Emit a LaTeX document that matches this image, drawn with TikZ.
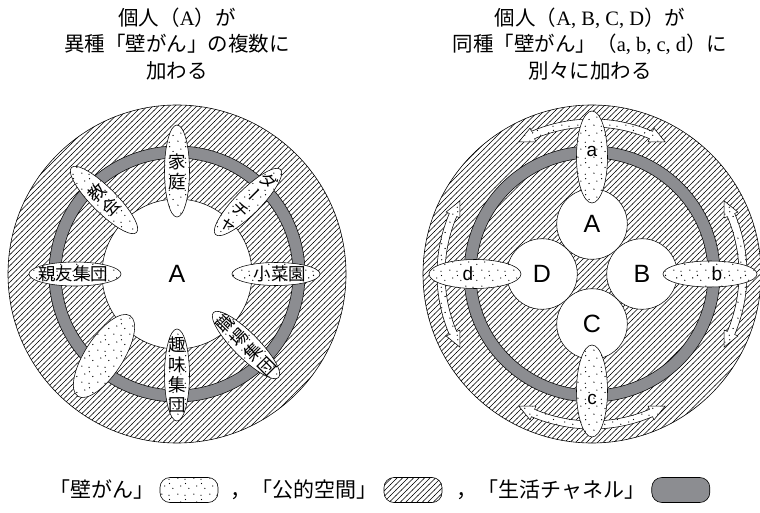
\documentclass[tikz,border=0pt]{standalone}
\usepackage{fontspec}
\setmainfont{Liberation Serif}
\newfontfamily\jp{Noto Sans CJK JP}
\newfontfamily\jpv[RawFeature=+vert]{Noto Sans CJK JP}
\newfontfamily\lsans{Liberation Sans}
\usetikzlibrary{patterns,shapes.geometric}
\newcommand\lat[1]{{\rmfamily #1}}
\definecolor{chan}{RGB}{140,141,145}
\pgfdeclarepatternformonly{hatchne}{\pgfqpoint{-1pt}{-1pt}}{\pgfqpoint{6.5pt}{6.5pt}}{\pgfqpoint{5.5pt}{5.5pt}}{%
  \pgfsetlinewidth{0.5pt}%
  \pgfpathmoveto{\pgfqpoint{-0.3pt}{-0.3pt}}%
  \pgfpathlineto{\pgfqpoint{5.8pt}{5.8pt}}%
  \pgfusepath{stroke}}
\pgfdeclarepatternformonly{wdots}{\pgfqpoint{0pt}{0pt}}{\pgfqpoint{16pt}{16pt}}{\pgfqpoint{16pt}{16pt}}{%
  \pgfpathcircle{\pgfqpoint{2pt}{3pt}}{0.7pt}%
  \pgfpathcircle{\pgfqpoint{9.5pt}{1.8pt}}{0.7pt}%
  \pgfpathcircle{\pgfqpoint{13.5pt}{9pt}}{0.7pt}%
  \pgfpathcircle{\pgfqpoint{5pt}{11.5pt}}{0.7pt}%
  \pgfpathcircle{\pgfqpoint{10pt}{14pt}}{0.7pt}%
  \pgfusepath{fill}}
\tikzset{
  wall/.style={ellipse, draw, line width=0.55pt, preaction={fill=white}, pattern=wdots, inner sep=0pt},
  arr/.style={draw, line width=0.55pt, preaction={fill=white}, pattern=wdots},
  jtxt/.style={font=\jp\fontsize{17.5}{20}\selectfont, align=center, inner sep=0pt},
  jvtxt/.style={font=\jpv\fontsize{17.5}{20}\selectfont, align=center, inner sep=0pt},
  title/.style={font=\jp\fontsize{20.5}{26.5}\selectfont, align=center, inner sep=0pt},
  leg/.style={font=\jp\fontsize{21}{24}\selectfont, inner sep=0pt},
  legbox/.style={draw, line width=0.6pt, rounded corners=10pt, minimum width=58pt, minimum height=25pt, inner sep=0pt},
  person/.style={circle, draw, line width=0.55pt, fill=white, minimum size=70.6pt, inner sep=0pt, font=\lsans\fontsize{25}{25}\selectfont},
  small/.style={font=\lsans\fontsize{19}{19}\selectfont, inner sep=0pt},
}
\newcommand\dblarc[2]{%
  \draw[arr] (#1:151) -- ({#1+6}:158.5) -- ({#1+6}:155) arc[start angle={#1+6}, end angle={#2-6}, radius=155pt]
    -- ({#2-6}:158.5) -- (#2:151) -- ({#2-6}:143.5) -- ({#2-6}:147)
    arc[start angle={#2-6}, end angle={#1+6}, radius=147pt] -- ({#1+6}:143.5) -- cycle;}
\begin{document}
\begin{tikzpicture}[x=1pt,y=1pt]
\useasboundingbox[fill=white] (0,0) rectangle (760,512);
% titles
\node[title] (tl) at (177,468) {個人（\lat{A}）が\\異種「壁がん」の複数に\\加わる};
\node[title] (tr) at (590,468) {個人（\lat{A, B, C, D}）が\\同種「壁がん」（\lat{a, b, c, d}）に\\別々に加わる};
% left diagram
\begin{scope}[shift={(177,238)}]
  \fill[pattern=hatchne] (0,0) circle[radius=169pt];
  \draw[line width=0.6pt] (0,0) circle[radius=169pt];
  \draw[line width=0.55pt, fill=chan, even odd rule] (0,0) circle[radius=128pt] (0,0) circle[radius=116pt];
  \draw[line width=0.55pt, fill=white] (0,0) circle[radius=75pt];
  \node[font=\lsans\fontsize{25}{25}\selectfont] (cA) at (0,0) {A};
  \node[wall, minimum width=25pt, minimum height=92pt] (e1) at (0,103) {};
  \node[jtxt] (t1) at (0,102) {家\\庭};
  \node[wall, minimum width=25pt, minimum height=92pt, rotate=-45] (e2) at (71,72) {};
  \node[jvtxt, rotate=-45] (t2) at (71,72) {ダ\\ー\\チ\\ャ};
  \node[wall, minimum width=88pt, minimum height=23pt] (e3) at (99,0) {};
  \node[jtxt] (t3) at (103,0) {小菜園};
  \node[wall, minimum width=25pt, minimum height=92pt, rotate=45] (e4) at (69,-71) {};
  \node[jtxt, rotate=45] (t4) at (69,-71) {職\\場\\集\\団};
  \node[wall, minimum width=25pt, minimum height=92pt] (e5) at (0,-101) {};
  \node[jtxt] (t5) at (0,-101) {趣\\味\\集\\団};
  \node[wall, minimum width=38pt, minimum height=96pt, rotate=-33] (e6) at (-73,-82) {};
  \node[wall, minimum width=92pt, minimum height=24pt] (e7) at (-102,0) {};
  \node[jtxt] (t7) at (-104,0) {親友集団};
  \node[wall, minimum width=25pt, minimum height=92pt, rotate=45] (e8) at (-73,74) {};
  \node[jtxt, rotate=45] (t8) at (-73,74) {教\\会};
\end{scope}
% right diagram
\begin{scope}[shift={(592,238)}]
  \fill[pattern=hatchne] (0,0) circle[radius=169pt];
  \draw[line width=0.6pt] (0,0) circle[radius=169pt];
  \draw[line width=0.55pt, fill=chan, even odd rule] (0,0) circle[radius=128pt] (0,0) circle[radius=116pt];
  \dblarc{61}{119}
  \dblarc{151}{209}
  \dblarc{241}{299}
  \dblarc{-29}{29}
  \node[person] (pA) at (0,50) {A};
  \node[person] (pB) at (50,0) {B};
  \node[person] (pC) at (0,-50) {C};
  \node[person] (pD) at (-50,0) {D};
  \node[wall, minimum width=31pt, minimum height=92pt] (ea) at (0,117) {};
  \node[wall, minimum width=94pt, minimum height=26pt] (eb) at (118,0) {};
  \node[wall, minimum width=31pt, minimum height=92pt] (ec) at (0,-117) {};
  \node[wall, minimum width=92pt, minimum height=29pt] (ed) at (-117,0) {};
  \node[small] (ta) at (0,123) {a};
  \node[small] (tb) at (125,0) {b};
  \node[small] (tc) at (0,-125) {c};
  \node[small] (td) at (-124,0) {d};
\end{scope}
% legend
\node[legbox, preaction={fill=white}, pattern=wdots] (b1) at (189,22) {};
\node[leg, anchor=east] (l1) at ([xshift=-5pt]b1.west) {「壁がん」};
\node[leg, anchor=west] (l2) at ([xshift=12pt]b1.east) {，「公的空間」};
\node[legbox, pattern=hatchne, anchor=west] (b2) at ([xshift=6pt]l2.east) {};
\node[leg, anchor=west] (l3) at ([xshift=14pt]b2.east) {，「生活チャネル」};
\node[legbox, fill=chan, anchor=west] (b3) at ([xshift=6pt]l3.east) {};
\end{tikzpicture}
\end{document}
